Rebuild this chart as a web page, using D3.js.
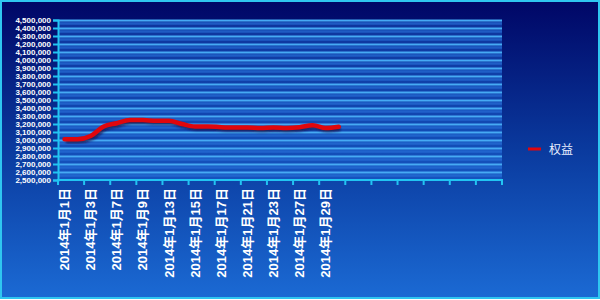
<!DOCTYPE html>
<html>
<head>
<meta charset="utf-8">
<script src="https://cdn.jsdelivr.net/npm/d3@7"></script>
<style>
  body { margin: 0; }
  svg { display: block; }
</style>
</head>
<body>
<script>
// trading days of January 2014 (day of month)
const days = [1, 2, 3, 6, 7, 8, 9, 10, 13, 14, 15, 16, 17, 20, 21, 22, 23, 24, 27, 28, 29, 30];
// equity values
const equity = [3010000, 3010000, 3050000, 3170000, 3210000, 3250000, 3250000, 3240000, 3240000, 3200000, 3170000,
  3170000, 3160000, 3155000, 3155000, 3150000, 3155000, 3150000, 3160000, 3185000, 3150000, 3165000];
const seriesName = "权益";
const slots = 34; // category axis length (empty slots after the data)
const yTicks = d3.range(2500000, 4500001, 100000);

const W = 600, H = 300;
const svg = d3.select("body").append("svg").attr("width", W).attr("height", H);

const defs = svg.append("defs");
const bg = defs.append("linearGradient").attr("id", "bg")
  .attr("x1", 0).attr("y1", 0).attr("x2", 0).attr("y2", 1);
bg.append("stop").attr("offset", "0%").attr("stop-color", "#000666");
bg.append("stop").attr("offset", "50%").attr("stop-color", "#0a3a9e");
bg.append("stop").attr("offset", "100%").attr("stop-color", "#1b6ad4");

const blur = defs.append("filter").attr("id", "shadow");
blur.append("feGaussianBlur").attr("stdDeviation", 1);

svg.append("rect").attr("x", 1).attr("y", 1).attr("width", W - 2).attr("height", H - 3)
  .attr("fill", "url(#bg)").attr("stroke", "#2fc6f0").attr("stroke-width", 2);

const x = d3.scaleBand().domain(d3.range(slots)).range([58, 502]);
const y = d3.scaleLinear().domain([2500000, 4500000]).range([180, 20]);
const cx = (i) => x(i) + x.bandwidth() / 2;

// plot area tint
svg.append("rect").attr("x", 58).attr("y", 20).attr("width", 444).attr("height", 160)
  .attr("fill", "#1e66d6").attr("opacity", 0.45);

// gridlines
svg.append("g").selectAll("line").data(yTicks.slice(1)).join("line")
  .attr("x1", 58).attr("x2", 502)
  .attr("y1", (d) => y(d) + 0.5).attr("y2", (d) => y(d) + 0.5)
  .attr("stroke", "#46aaf4").attr("stroke-width", 1.8);
svg.append("g").selectAll("line").data(yTicks.slice(1)).join("line")
  .attr("x1", 58).attr("x2", 502)
  .attr("y1", (d) => y(d) + 3.5).attr("y2", (d) => y(d) + 3.5)
  .attr("stroke", "#2a74dc").attr("stroke-width", 2.5).attr("opacity", 0.6);

// y axis
const yAxis = svg.append("g").attr("transform", "translate(58,0)")
  .call(d3.axisLeft(y).tickValues(yTicks).tickFormat(d3.format(",")).tickSize(5).tickPadding(2));
yAxis.select(".domain").attr("stroke", "#22c4f2").attr("stroke-width", 2);
yAxis.selectAll(".tick line").attr("stroke", "#22c4f2").attr("stroke-width", 2);
yAxis.selectAll("text").attr("fill", "#ffffff")
  .style("font", "bold 8px 'Liberation Sans', Arial, sans-serif");

// x axis
const tickPos = d3.range(0, slots + 1, 2).map((i) => (i < slots ? x(i) : 502));
const xg = svg.append("g");
xg.append("line").attr("x1", 57).attr("x2", 503).attr("y1", 180).attr("y2", 180)
  .attr("stroke", "#22c4f2").attr("stroke-width", 2);
xg.selectAll(".tk").data(tickPos).join("line").attr("class", "tk")
  .attr("x1", (d) => d).attr("x2", (d) => d).attr("y1", 180).attr("y2", 185)
  .attr("stroke", "#22c4f2").attr("stroke-width", 2);
xg.selectAll("text").data(days.filter((d, i) => i % 2 === 0)).join("text")
  .attr("transform", (d, i) => `translate(${cx(i * 2) + 4.5},188) rotate(-90)`)
  .attr("text-anchor", "end")
  .attr("fill", "#ffffff")
  .style("font", "bold 13px 'Liberation Sans', 'Noto Sans CJK SC', sans-serif")
  .text((d) => `2014年1月${d}日`);

// line
const line = d3.line().x((d, i) => cx(i)).y((d) => y(d)).curve(d3.curveMonotoneX);
svg.append("path").datum(equity).attr("d", line)
  .attr("transform", "translate(1.5,2)")
  .attr("fill", "none").attr("stroke", "#1a0a40").attr("stroke-opacity", 0.7)
  .attr("stroke-width", 4.5).attr("filter", "url(#shadow)");
svg.append("path").datum(equity).attr("d", line)
  .attr("fill", "none").attr("stroke", "#e0060c").attr("stroke-width", 4.5)
  .attr("stroke-linecap", "round").attr("stroke-linejoin", "round");

// legend
const lg = svg.append("g").attr("transform", "translate(528,149)");
lg.append("line").attr("x1", 1).attr("x2", 14).attr("y1", 1.5).attr("y2", 1.5)
  .attr("stroke", "#1a0a40").attr("stroke-width", 3).attr("filter", "url(#shadow)");
lg.append("line").attr("x1", 0).attr("x2", 13).attr("y1", 0).attr("y2", 0)
  .attr("stroke", "#e0060c").attr("stroke-width", 3);
lg.append("text").attr("x", 21).attr("y", 5).attr("fill", "#e8eeff")
  .style("font", "12px 'Noto Sans CJK SC', sans-serif")
  .text(seriesName);
</script>
</body>
</html>
